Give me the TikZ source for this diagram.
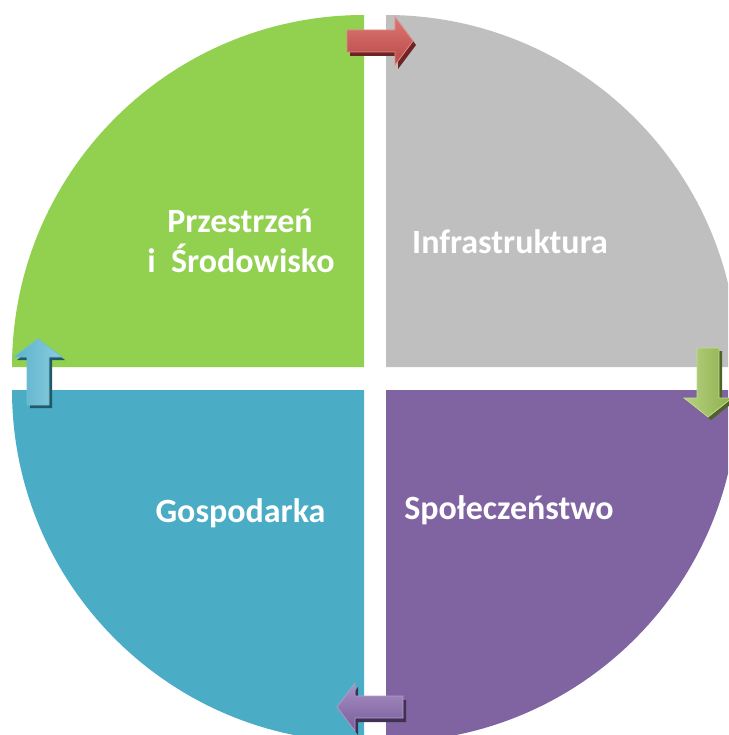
\documentclass[tikz,border=0pt]{standalone}
\usepackage{fontspec}
\setmainfont{Carlito}
\begin{document}
\begin{tikzpicture}[x=1pt,y=-1pt,
  lbl/.style={text=white,font=\fontsize{34}{39}\selectfont\bfseries,anchor=base,inner sep=0pt},
  pics/blockarrow/.style={code={
    \path[pic actions] (0,-11) -- (48,-11) -- (48,-24) -- (66,0) -- (48,24) -- (48,11) -- (0,11) -- cycle;
  }},
  pics/blockarrowL/.style={code={
    \path[pic actions] (0,-11) -- (50,-11) -- (50,-24) -- (69,0) -- (50,24) -- (50,11) -- (0,11) -- cycle;
  }}
]
\definecolor{cgreen}{HTML}{92D050}
\definecolor{cgray}{HTML}{BFBFBF}
\definecolor{cpurple}{HTML}{8064A2}
\definecolor{cblue}{HTML}{4BACC6}
\useasboundingbox (0,0) rectangle (728,735);
\begin{scope}
\clip (0,0) rectangle (728,735);
% quadrants: each a quarter circle of radius 352 about its inner corner
\fill[cgreen]  (364,367) -- (12,367) arc[start angle=180,end angle=270,radius=352] -- cycle;
\fill[cgray]   (386,367) -- (386,15) arc[start angle=270,end angle=360,radius=352] -- cycle;
\fill[cpurple] (386,390) -- (738,390) arc[start angle=0,end angle=90,radius=352] -- cycle;
\fill[cblue]   (364,390) -- (364,742) arc[start angle=90,end angle=180,radius=352] -- cycle;
\end{scope}
% labels
\node[lbl] (ps1) at (240,233) {Przestrzeń};
\node[lbl] (ps2) at (241,272) {i\hspace{0.45em}Środowisko};
\node[lbl] (inf) at (510,253) {Infrastruktura};
\node[lbl] (gos) at (240.5,522) {Gospodarka};
\node[lbl] (spo) at (509,519) {Społeczeństwo};
% arrows: shadow then body
% red, right
\pic[fill={rgb,255:red,110;green,36;blue,36}] at (350,45) {blockarrow};
\pic[top color={rgb,255:red,220;green,120;blue,117},bottom color={rgb,255:red,184;green,72;blue,69},draw={rgb,255:red,226;green,140;blue,137},line width=0.8] at (347,41) {blockarrow};
% green, down
\pic[fill={rgb,255:red,79;green,98;blue,40},rotate=-90] at (711,351) {blockarrowL};
\pic[left color={rgb,255:red,184;green,210;blue,130},right color={rgb,255:red,140;green,176;blue,76},draw={rgb,255:red,196;green,218;blue,150},line width=0.8,rotate=-90] at (708,348) {blockarrowL};
% blue, up
\pic[fill={rgb,255:red,33;green,89;blue,104},rotate=90] at (41,408) {blockarrow};
\pic[left color={rgb,255:red,90;green,178;blue,204},right color={rgb,255:red,140;green,204;blue,222},draw={rgb,255:red,110;green,190;blue,214},line width=0.8,rotate=90] at (38,405) {blockarrow};
% purple, left
\pic[fill={rgb,255:red,63;green,49;blue,81},rotate=180] at (406,711) {blockarrow};
\pic[top color={rgb,255:red,168;green,146;blue,196},bottom color={rgb,255:red,120;green,92;blue,156},draw={rgb,255:red,176;green,156;blue,202},line width=0.8,rotate=180] at (403,707) {blockarrow};
\end{tikzpicture}
\end{document}
